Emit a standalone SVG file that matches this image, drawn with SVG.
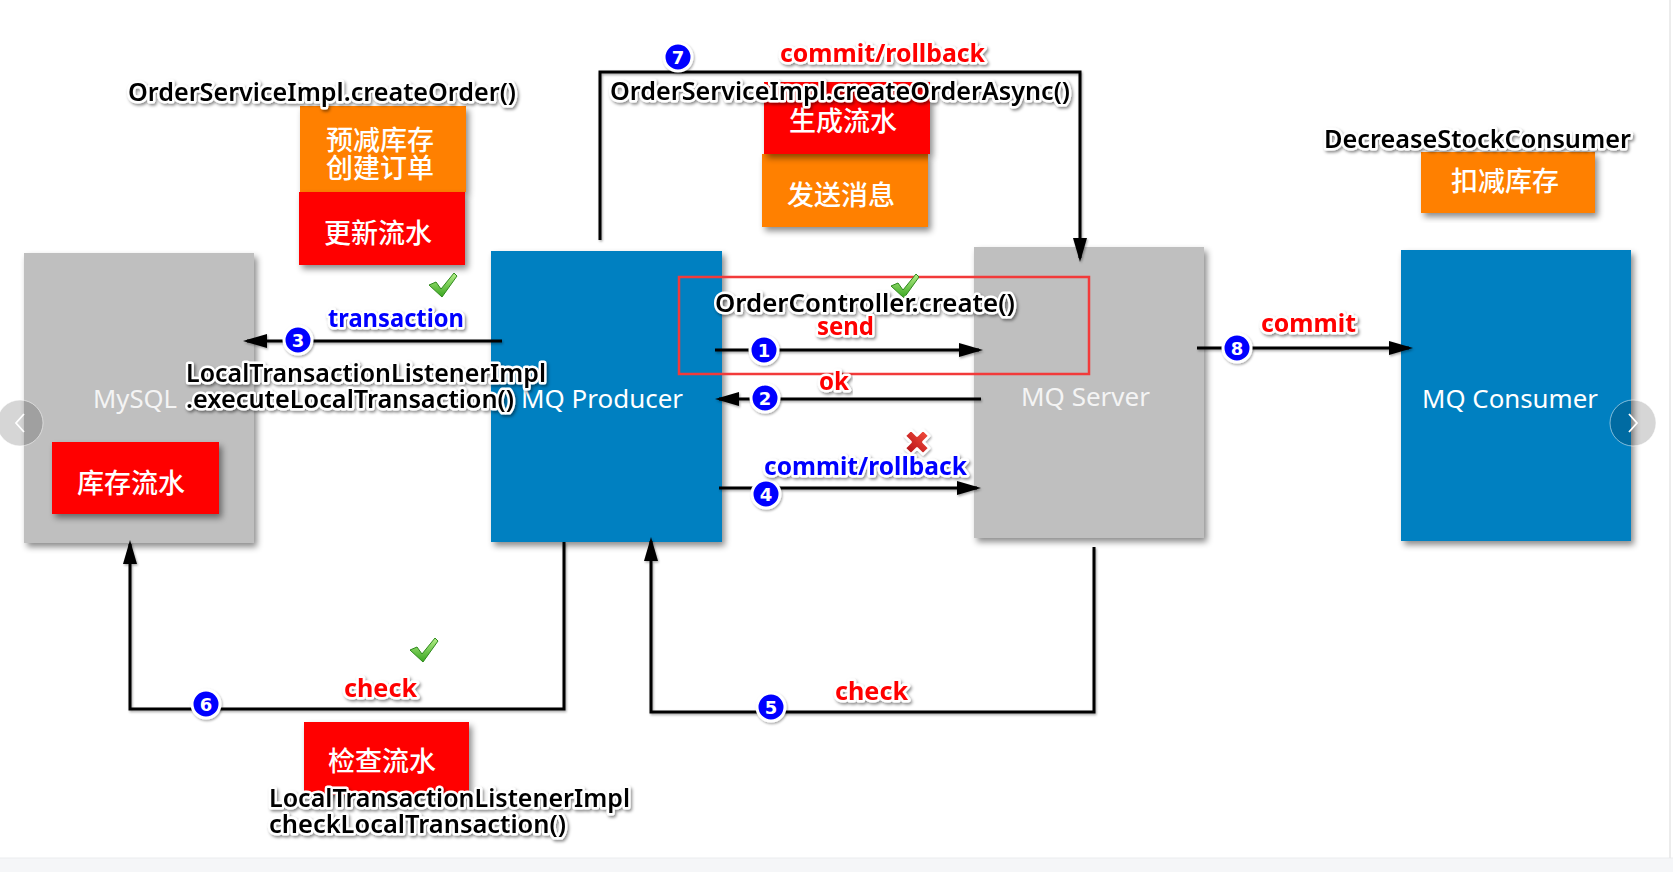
<svg xmlns="http://www.w3.org/2000/svg" width="1673" height="872" viewBox="0 0 1673 872">
<defs>
<filter id="bs" x="-10%" y="-10%" width="125%" height="125%"><feDropShadow dx="3" dy="4" stdDeviation="3" flood-color="#000" flood-opacity="0.45"/></filter>
<filter id="ts" x="-10%" y="-30%" width="120%" height="170%"><feDropShadow dx="1.5" dy="2" stdDeviation="1.5" flood-color="#000" flood-opacity="0.45"/></filter>
<filter id="ls" filterUnits="userSpaceOnUse" x="0" y="0" width="1673" height="872"><feDropShadow dx="1" dy="1.5" stdDeviation="1" flood-color="#000" flood-opacity="0.35"/></filter>
<linearGradient id="gck" x1="0" y1="0" x2="0" y2="1"><stop offset="0" stop-color="#b6f08a"/><stop offset="1" stop-color="#38a51f"/></linearGradient>
<linearGradient id="gx" x1="0" y1="0" x2="0" y2="1"><stop offset="0" stop-color="#f04a3a"/><stop offset="1" stop-color="#b8141a"/></linearGradient>
<marker id="ah" markerWidth="24" markerHeight="14" refX="20" refY="7" orient="auto" markerUnits="userSpaceOnUse"><path d="M0,0 L24,7 L0,14 z" fill="#000"/></marker>
<g id="chk"><path d="M-14,0 L-7,-3 L-2,4 L11,-12 L14,-9 L-1,12 Z" fill="url(#gck)" stroke="#2f8a1c" stroke-width="1" stroke-linejoin="round"/></g>
</defs>
<style>
.gray{fill:#bfbfbf}
.blue{fill:#0180c1}
.org{fill:#ff8000}
.red{fill:#ff0000}
.box{filter:url(#bs)}
.nl{font-family:'Noto Sans','Open Sans',sans-serif;font-size:26px;fill:#fff}
.nl.g{fill:#f4f4f4}
.cj{font-family:'Noto Sans CJK SC',sans-serif;font-size:27px;font-weight:500;fill:#fff;text-anchor:middle}
.t{font-family:'Noto Sans','Open Sans',sans-serif;font-size:26px;font-weight:600;fill:#000;stroke:#fff;stroke-width:5px;paint-order:stroke;stroke-linejoin:round;filter:url(#ts)}
.tr{fill:#ff0000;font-weight:bold;font-size:25px}
.tb{fill:#0000ff;font-weight:bold;font-size:25px}
.ln{fill:none;stroke:#000;stroke-width:3;filter:url(#ls)}
.bd circle{fill:#0000ff;stroke:#fff;stroke-width:3;filter:url(#ls)}
.bd text{font-family:'DejaVu Sans',sans-serif;font-weight:bold;font-size:18px;fill:#fff;text-anchor:middle}
</style>
<rect width="1673" height="872" fill="#fff"/>
<rect x="0" y="858" width="1673" height="14" fill="#f5f6f8"/>
<line x1="0" y1="858" x2="1673" y2="858" stroke="#ebecee" stroke-width="1"/>
<line x1="1670" y1="0" x2="1670" y2="858" stroke="#e6e6e6" stroke-width="1.5"/>

<g id="mysql"><rect class="gray box" x="24" y="253" width="230" height="290"/><text class="nl g" x="93" y="408" textLength="84" lengthAdjust="spacingAndGlyphs">MySQL</text></g>
<g id="producer"><rect class="blue box" x="491" y="251" width="231" height="291"/><text class="nl" x="521" y="408" textLength="162" lengthAdjust="spacingAndGlyphs">MQ Producer</text></g>
<g id="server"><rect class="gray box" x="974" y="247" width="230" height="291"/><text class="nl g" x="1021" y="406" textLength="129" lengthAdjust="spacingAndGlyphs">MQ Server</text></g>
<g id="consumer"><rect class="blue box" x="1401" y="250" width="230" height="291"/><text class="nl" x="1422" y="408" textLength="176" lengthAdjust="spacingAndGlyphs">MQ Consumer</text></g>

<g id="task-prededuct"><rect class="org box" x="300" y="106" width="166" height="86"/><text class="cj" x="380" y="150">预减库存</text><text class="cj" x="380" y="178">创建订单</text></g>
<g id="task-update-log"><rect class="red box" x="299" y="192" width="166" height="73"/><text class="cj" x="378" y="243">更新流水</text></g>
<g id="task-send-msg"><rect class="org box" x="762" y="154" width="166" height="73"/><text class="cj" x="841" y="205">发送消息</text></g>
<g id="task-gen-log"><rect class="red box" x="764" y="82" width="166" height="72"/><text class="cj" x="843" y="131">生成流水</text></g>
<g id="task-decrease"><rect class="org box" x="1421" y="152" width="174" height="61"/><text class="cj" x="1505" y="191">扣减库存</text></g>
<g id="task-stock-log"><rect class="red box" x="52" y="442" width="167" height="72"/><text class="cj" x="131" y="493">库存流水</text></g>
<g id="task-check-log"><rect class="red box" x="304" y="722" width="165" height="73"/><text class="cj" x="382" y="771">检查流水</text></g>

<g id="highlight"><rect x="679" y="277" width="410" height="97" fill="none" stroke="#f23a3a" stroke-width="2.5"/></g>

<g id="connectors">
<path class="ln" d="M715,350 H979" marker-end="url(#ah)"/>
<path class="ln" d="M981,399 H719" marker-end="url(#ah)"/>
<path class="ln" d="M502,341 H247" marker-end="url(#ah)"/>
<path class="ln" d="M719,488 H977" marker-end="url(#ah)"/>
<path class="ln" d="M1094,547 V712 H651 V541" marker-end="url(#ah)"/>
<path class="ln" d="M564,542 V709 H130 V544" marker-end="url(#ah)"/>
<path class="ln" d="M600,240 V72 H1080 V258" marker-end="url(#ah)"/>
<path class="ln" d="M1197,348 H1409" marker-end="url(#ah)"/>
</g>

<g id="icons">
<use href="#chk" x="443" y="285"/>
<use href="#chk" x="905" y="286"/>
<use href="#chk" x="424" y="650"/>
<g filter="url(#ls)"><g transform="translate(917,442) rotate(45)"><path d="M-4.5,-13 H4.5 V-4.5 H13 V4.5 H4.5 V13 H-4.5 V4.5 H-13 V-4.5 H-4.5 Z" fill="url(#gx)" stroke="#fff" stroke-width="2.5" stroke-linejoin="round"/></g></g>
</g>

<g id="badges" class="bd">
<circle cx="764" cy="350" r="14"/><text x="764" y="356.5">1</text>
<circle cx="765" cy="398" r="14"/><text x="765" y="404.5">2</text>
<circle cx="298" cy="340" r="14"/><text x="298" y="346.5">3</text>
<circle cx="766" cy="494" r="14"/><text x="766" y="500.5">4</text>
<circle cx="771" cy="707" r="14"/><text x="771" y="713.5">5</text>
<circle cx="206" cy="704" r="14"/><text x="206" y="710.5">6</text>
<circle cx="678" cy="57" r="14"/><text x="678" y="63.5">7</text>
<circle cx="1237" cy="348" r="14"/><text x="1237" y="354.5">8</text>
</g>

<g id="labels">
<text class="t" x="128" y="101" textLength="388" lengthAdjust="spacingAndGlyphs">OrderServiceImpl.createOrder()</text>
<text class="t" x="610" y="100" textLength="460" lengthAdjust="spacingAndGlyphs">OrderServiceImpl.createOrderAsync()</text>
<text class="t tr" x="780" y="62" textLength="205" lengthAdjust="spacingAndGlyphs">commit/rollback</text>
<text class="t" x="1324" y="148" textLength="307" lengthAdjust="spacingAndGlyphs">DecreaseStockConsumer</text>
<text class="t" x="715" y="312" textLength="300" lengthAdjust="spacingAndGlyphs">OrderController.create()</text>
<text class="t tr" x="817" y="335" textLength="57" lengthAdjust="spacingAndGlyphs">send</text>
<text class="t tr" x="819" y="390" textLength="30" lengthAdjust="spacingAndGlyphs">ok</text>
<text class="t tb" x="764" y="475" textLength="203" lengthAdjust="spacingAndGlyphs">commit/rollback</text>
<text class="t tb" x="328" y="327" textLength="136" lengthAdjust="spacingAndGlyphs">transaction</text>
<text class="t" x="186" y="382" textLength="360" lengthAdjust="spacingAndGlyphs">LocalTransactionListenerImpl</text>
<text class="t" x="186" y="408" textLength="328" lengthAdjust="spacingAndGlyphs">.executeLocalTransaction()</text>
<text class="t tr" x="344" y="697" textLength="73" lengthAdjust="spacingAndGlyphs">check</text>
<text class="t" x="269" y="807" textLength="361" lengthAdjust="spacingAndGlyphs">LocalTransactionListenerImpl</text>
<text class="t" x="269" y="833" textLength="297" lengthAdjust="spacingAndGlyphs">checkLocalTransaction()</text>
<text class="t tr" x="835" y="700" textLength="73" lengthAdjust="spacingAndGlyphs">check</text>
<text class="t tr" x="1261" y="332" textLength="95" lengthAdjust="spacingAndGlyphs">commit</text>
</g>

<g id="carousel">
<circle cx="20" cy="423" r="23" fill="#000" fill-opacity="0.16" stroke="#fff" stroke-opacity="0.5" stroke-width="1"/>
<polyline points="24,414 16,423 24,432" fill="none" stroke="#fff" stroke-width="1.8"/>
<circle cx="1633" cy="423" r="23" fill="#000" fill-opacity="0.16" stroke="#fff" stroke-opacity="0.5" stroke-width="1"/>
<polyline points="1629,414 1637,423 1629,432" fill="none" stroke="#fff" stroke-width="1.8"/>
</g>
</svg>
